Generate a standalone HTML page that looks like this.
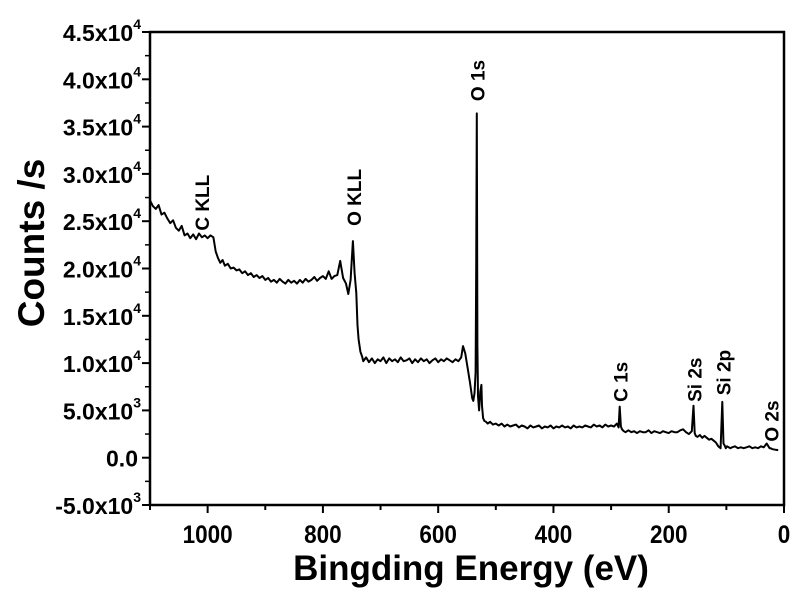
<!DOCTYPE html>
<html><head><meta charset="utf-8"><style>
body{margin:0;background:#fff;}
svg text{font-family:"Liberation Sans",Arial,sans-serif;font-weight:bold;fill:#000;}
</style></head><body>
<svg id="chart" width="800" height="595" viewBox="0 0 800 595">
<g id="plot"></g>
</svg>
<script>
const energies=[1100,1095,1090,1085,1080,1075,1070,1065,1060,1055,1050,1045,1040,1035,1030,1025,1020,1015,1010,1005,1000,995,990,986,982,978,974,970,965,960,955,950,945,940,935,930,925,920,915,910,905,900,895,890,885,880,875,870,865,860,855,850,845,840,835,830,825,820,815,810,805,800,795,790,785,780,775,770,765,760,756,752,748,745,742,740,738,735,732,730,725,720,715,710,705,700,695,690,685,680,675,670,665,660,655,650,645,640,635,630,625,620,615,610,605,600,595,590,585,580,575,570,565,560,557,553,549,545,541,539,537,535,534,533,532,531,529,527,525,524,522,520,517,514,510,505,500,495,490,485,480,475,470,465,460,455,450,445,440,435,430,425,420,415,410,405,400,395,390,385,380,375,370,365,360,355,350,345,340,335,330,325,320,315,310,305,300,295,290,287,285,283,281,278,275,270,265,260,255,250,245,240,235,230,225,220,215,210,205,200,195,190,185,180,175,170,165,160,157,155,153,150,146,142,138,134,130,126,122,118,114,110,107,105,103,101,99,96,93,90,85,80,75,70,65,60,55,50,45,40,35,30,27,25,23,20,15,10,5,0];
const counts=[27200,26600,26300,26700,25700,25900,25300,24800,25100,24300,24000,24500,23500,23700,23200,23600,23100,23700,23300,23500,23200,23500,23300,21800,21100,20600,20900,20300,20500,20000,20100,19800,19900,19500,19700,19300,19500,19100,19300,19000,19200,18800,19000,18600,18800,18500,18900,18600,18400,18800,18500,18700,18400,18800,18500,18900,18600,18800,19100,18700,19000,19200,18900,19700,18900,19200,19300,20800,19000,18400,17300,18800,22900,19500,17400,14000,12500,11200,10700,10200,10600,10100,10500,10000,10400,10200,10600,10000,10500,10200,10400,10100,10600,10200,10300,10500,10000,10400,10100,10500,10200,10400,10000,10300,10500,10100,10400,10200,10500,10300,10100,10400,10200,10600,11800,11000,9500,8000,6300,6000,6800,9000,20000,36400,12000,6500,5000,7000,7700,5500,4200,3900,3800,3600,3800,3500,3600,3400,3600,3300,3500,3300,3400,3500,3200,3400,3300,3100,3400,3200,3300,3400,3100,3300,3200,3400,3100,3300,3200,3400,3200,3300,3100,3400,3200,3300,3200,3400,3300,3200,3500,3300,3400,3200,3500,3300,3400,3300,3600,3200,5400,3300,3000,2800,2700,2900,2700,2800,2600,2800,2700,2700,2900,2600,2800,2700,2600,2800,2700,2600,2800,2700,2700,2900,3000,2700,2500,2800,5500,2600,2300,2200,2400,2100,2300,2100,1900,2000,1800,1600,1200,1000,5900,1500,1300,1000,1200,1100,1000,1100,1200,1000,1100,1000,1100,1200,1000,1100,1000,1200,1100,1500,1200,1000,1000,900,850,800];
const xTicks=[1000,800,600,400,200,0];
const xMinor=[1100,900,700,500,300,100];
const yTicks=[-5000,0,5000,10000,15000,20000,25000,30000,35000,40000,45000];
const yTickMant=["-5.0","0.0","5.0","1.0","1.5","2.0","2.5","3.0","3.5","4.0","4.5"];
const yTickExp=["3","","3","4","4","4","4","4","4","4","4"];
const peakLabels=["C KLL","O KLL","O 1s","C 1s","Si 2s","Si 2p","O 2s"];
const peakPos=[1010,746,532,284,155,105,22];
const peakLabelVal=[24000,24500,37700,5900,5900,6600,1700];

const L=150,R=784,T=32,B=505;
const X=v=>L+(1100-v)*(R-L)/1100;
const Y=v=>B-(v+5000)*(B-T)/50000;
const NS='http://www.w3.org/2000/svg';
const g=document.getElementById('plot');
function mk(tag,attrs){const e=document.createElementNS(NS,tag);for(const k in attrs)e.setAttribute(k,attrs[k]);g.appendChild(e);return e;}

const frame=mk('rect',{x:L,y:T,width:R-L,height:B-T,fill:'none',stroke:'#000','stroke-width':2.5});



xTicks.forEach(v=>{
 const t=mk('line',{x1:X(v),x2:X(v),y1:B,y2:B+8,stroke:'#000','stroke-width':2});
 
 
 const tx=mk('text',{x:X(v),y:B+38,'text-anchor':'middle','font-size':25,transform:`translate(${X(v)} 0) scale(0.9 1) translate(${-X(v)} 0)`});
 tx.textContent=v;
 
 
});
xMinor.forEach(v=>{
 const t=mk('line',{x1:X(v),x2:X(v),y1:B,y2:B+5,stroke:'#000','stroke-width':2});
 
 
});
yTicks.forEach((v,i)=>{
 const t=mk('line',{x1:L-8,x2:L,y1:Y(v),y2:Y(v),stroke:'#000','stroke-width':2});
 
 
 if(i<yTicks.length-1){
  const m=mk('line',{x1:L-5,x2:L,y1:Y(v+2500),y2:Y(v+2500),stroke:'#000','stroke-width':1.5});
  
  
 }
 const tx=mk('text',{x:L-12,y:Y(v)+9,'text-anchor':'end','font-size':23});
 
 
 if(yTickExp[i]){
  tx.textContent=yTickMant[i]+'x10';
  const s=document.createElementNS(NS,'tspan');
  s.setAttribute('dy','-12');s.setAttribute('font-size','14');
  s.textContent=yTickExp[i];tx.appendChild(s);
  tx.setAttribute('x',L-9);
 } else tx.textContent=yTickMant[i];
});

let d='';
energies.forEach((e,i)=>{d+=(i?'L':'M')+X(e).toFixed(1)+','+Y(counts[i]).toFixed(1);});
const line=mk('path',{d:d,fill:'none',stroke:'#000','stroke-width':2,'stroke-linejoin':'round'});



peakLabels.forEach((lab,i)=>{
 const x=X(peakPos[i])+7,y=Y(peakLabelVal[i]);
 const t=mk('text',{x:x,y:y,'font-size':19,transform:`rotate(-90 ${x} ${y})`});
 t.textContent=lab;
 
 
});

const xt=mk('text',{x:471,y:580,'text-anchor':'middle','font-size':35});
xt.textContent='Bingding Energy (eV)';


const yt=mk('text',{x:44,y:243,'text-anchor':'middle','font-size':37,transform:'rotate(-90 44 243)'});
yt.textContent='Counts /s';


</script>
</body></html>
